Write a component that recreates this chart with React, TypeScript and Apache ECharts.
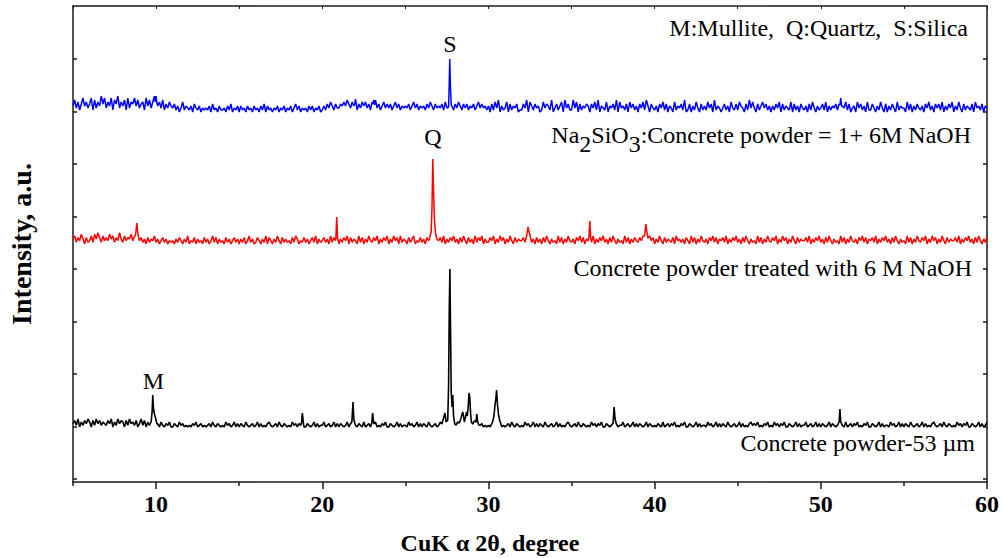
import React, { useEffect, useRef } from "react";
import * as echarts from "echarts";

// 2θ grid of the scans (degrees)
const X_START = 5;
const X_STEP = 0.1;

// Tick values
const xMajorTicks = [10, 20, 30, 40, 50, 60];
const xMinorTicks = [5, 15, 25, 35, 45, 55];
const xTopTicks = [5, 10, 15, 20, 25, 30, 35, 40, 45, 50, 55, 60];
const yTicks = [3, 55.5, 108, 160.5, 213, 265.5, 318, 370.5, 423];

// Background noise, one digit per 0.1° step (5° → 60°)
const blueNoise =
  "4736258463 5827364958 3648275936 4728365847 3562847369 7463725364 3524136243 2415324132 3241523142 2314251324 " +
  "1423142314 2314251423 1324132413 2413524132 3142413241 2425364253 3546475364 4253646352 6473524635 3524635243 " +
  "4352463524 3425364253 4352637242 5364253524 3524635342 4152637142 3615243512 2537164253 4126354271 3524617352 " +
  "2736152435 4153627143 2614352716 3425163524 1536274153 2415362514 3162435271 2514263152 4263517243 1352416325 " +
  "2643152736 3152463524 1425361524 3261524153 2415263142 3526142435 2514362513 4163524162 2531426315 1425316243 " +
  "3162514253 2415362415 3526142536 1426315243 25163425143";
const redNoise =
  "4625374152 3627485263 5374625384 2635473625 3524152436 2413524132 3142531426 1325142315 2413625142 3152413524 " +
  "1425136241 2531426153 1426315242 3152641325 2413526142 3524162534 1425361524 3162514263 2536142536 1426351624 " +
  "3152461325 2415362514 3526142536 2415263152 4162536142 2536142635 1426315243 3526472415 2415263142 3162514263 " +
  "2415362514 3526142536 2415263142 3162514253 2536142635 1426315243 2516342415 3162514263 2415362514 3526142536 " +
  "2415263142 3162514263 2536142635 1426315243 3526142536 2415263142 3162514263 2415362514 3526142536 2415263142 " +
  "3162514263 2536142635 1426315243 3526142536 24152631426";
const blackNoise =
  "3526142536 4152635243 2536142635 4152634251 3625142536 2314213241 1321423121 2132412312 1231421321 2142312413 " +
  "1321421231 2413121342 1231421321 2142313241 1321241312 2412312413 1321241321 2132141231 3241213241 1321241312 " +
  "2142312413 1321421231 2413121342 2314213241 1321423121 2132412312 1231421321 2142312413 1321421231 2413121342 " +
  "1231421321 2142313241 1321241312 2412312413 1321241321 2132141231 3241213241 1321241312 2142312413 1321421231 " +
  "2413121342 3241213241 2142313241 1321241312 2412312413 1321241321 2132141231 3241213241 1321241312 2142312413 " +
  "1321421231 2413121342 1231421321 2142313241 13212413124";

// Baseline level and noise step of each (offset) trace, in plot units
const blueBase = 368;
const blueStep = 2.0;
const redBase = 236.5;
const redStep = 1.6;
const blackBase = 53.5;
const blackStep = 1.6;

// Diffraction peaks [2θ, intensity]
const bluePeaks: number[][][] = [
  [[9.95, 380], [10.0, 386], [10.05, 379]],
  [[21.95, 378], [22.0, 383], [22.05, 377]],
  [[23.05, 378], [23.1, 382], [23.15, 377]],
  [[27.6, 375], [27.64, 398], [27.67, 423], [27.71, 396], [27.76, 377]],
  [[51.15, 377], [51.2, 384], [51.25, 376]],
];
const redPeaks: number[][][] = [
  [[8.75, 246], [8.8, 252], [8.84, 259], [8.9, 249], [8.95, 244]],
  [[20.82, 244], [20.87, 265], [20.92, 244]],
  [[26.45, 243], [26.55, 250], [26.6, 272], [26.65, 323], [26.7, 290], [26.75, 262], [26.82, 248], [26.9, 243]],
  [[32.3, 246], [32.38, 255], [32.45, 250], [32.52, 245]],
  [[36.05, 245], [36.1, 261], [36.15, 245]],
  [[39.4, 246], [39.47, 258], [39.55, 248], [39.6, 244]],
];
const blackPeaks: number[][][] = [
  [[9.7, 60], [9.76, 70], [9.8, 87], [9.84, 74], [9.9, 68], [9.97, 64], [10.05, 58]],
  [[18.75, 59], [18.8, 69], [18.87, 58]],
  [[21.78, 60], [21.85, 80], [21.9, 63], [21.97, 58]],
  [[22.98, 59], [23.03, 69], [23.1, 58]],
  [
    [27.2, 58], [27.3, 64], [27.38, 69], [27.45, 60], [27.55, 62], [27.6, 95], [27.64, 170], [27.68, 213],
    [27.72, 150], [27.76, 90], [27.81, 75], [27.85, 87], [27.9, 66], [27.97, 58], [28.05, 57], [28.15, 60],
    [28.25, 59], [28.35, 64], [28.45, 70], [28.5, 66], [28.55, 60], [28.62, 65], [28.68, 70], [28.73, 66],
    [28.78, 75], [28.83, 89], [28.88, 84], [28.92, 70], [28.97, 60], [29.05, 58], [29.15, 61], [29.25, 60],
    [29.3, 68], [29.35, 60], [29.42, 57],
  ],
  [[30.25, 60], [30.33, 66], [30.4, 78], [30.45, 84], [30.49, 92], [30.54, 78], [30.6, 68], [30.67, 62], [30.75, 58]],
  [[37.5, 59], [37.56, 75], [37.62, 63], [37.7, 58]],
  [[51.1, 60], [51.15, 73], [51.2, 60]],
];

function buildScan(noise: string, base: number, step: number, peaks: number[][][]) {
  const digits = noise.replace(/\s+/g, "");
  let pts: number[][] = [];
  for (let i = 0; i < digits.length; i++) {
    const x = Math.round((X_START + i * X_STEP) * 100) / 100;
    if (x > 60) break;
    pts.push([x, base + Number(digits[i]) * step]);
  }
  for (const pk of peaks) {
    const lo = pk[0][0];
    const hi = pk[pk.length - 1][0];
    pts = pts.filter((p) => p[0] < lo || p[0] > hi);
    pts.push(...pk);
  }
  pts.sort((a, b) => a[0] - b[0]);
  return pts;
}

const FONT = '"Liberation Serif", "Times New Roman", Times, serif';
const AXIS_COLOR = "#1a1a1a";

export default function App() {
  const ref = useRef<HTMLDivElement>(null);

  useEffect(() => {
    if (!ref.current) return;
    const chart = echarts.init(ref.current, null, { renderer: "svg" });

    const lineAxis = { show: true, onZero: false, lineStyle: { color: AXIS_COLOR, width: 1.5 } };
    const tickStyle = { color: AXIS_COLOR, width: 1.5 };

    const textEl = (text: string, x: number, y: number, align: string, opts: any = {}) => ({
      type: "text",
      x,
      y,
      rotation: opts.rotation || 0,
      silent: true,
      style: {
        text,
        fontFamily: FONT,
        fontSize: opts.fontSize || 24,
        fontWeight: opts.fontWeight || "normal",
        fill: "#000",
        align,
        textAlign: align,
        verticalAlign: "middle",
        textVerticalAlign: "middle",
      },
    });

    chart.setOption({
      animation: false,
      backgroundColor: "#ffffff",
      grid: { left: 73, right: 15, top: 6, bottom: 76, containLabel: false },
      xAxis: [
        {
          type: "value",
          min: 5,
          max: 60,
          position: "bottom",
          axisLine: lineAxis,
          axisTick: { show: true, inside: false, length: 7, customValues: xMajorTicks, lineStyle: tickStyle },
          axisLabel: {
            show: true,
            customValues: xMajorTicks,
            margin: 10,
            fontFamily: FONT,
            fontWeight: "bold",
            fontSize: 24,
            color: "#000",
          },
          splitLine: { show: false },
        },
        {
          type: "value",
          min: 5,
          max: 60,
          position: "bottom",
          axisLine: { show: false },
          axisTick: { show: true, inside: false, length: 4, customValues: xMinorTicks, lineStyle: tickStyle },
          axisLabel: { show: false },
          splitLine: { show: false },
        },
        {
          type: "value",
          min: 5,
          max: 60,
          position: "top",
          axisLine: lineAxis,
          axisTick: { show: true, inside: true, length: 3, customValues: xTopTicks, lineStyle: { color: AXIS_COLOR, width: 1 } },
          axisLabel: { show: false },
          splitLine: { show: false },
        },
      ],
      yAxis: [
        {
          type: "value",
          min: 0,
          max: 476,
          position: "left",
          axisLine: lineAxis,
          axisTick: { show: true, inside: true, length: 4, customValues: yTicks, lineStyle: tickStyle },
          axisLabel: { show: false },
          splitLine: { show: false },
        },
        {
          type: "value",
          min: 0,
          max: 476,
          position: "right",
          axisLine: lineAxis,
          axisTick: { show: true, inside: true, length: 4, customValues: yTicks, lineStyle: tickStyle },
          axisLabel: { show: false },
          splitLine: { show: false },
        },
      ],
      series: [
        {
          name: "Na2SiO3:Concrete powder = 1+ 6M NaOH (top)",
          type: "line",
          data: buildScan(blueNoise, blueBase, blueStep, bluePeaks),
          showSymbol: false,
          symbol: "none",
          silent: true,
          lineStyle: { color: "#0000ff", width: 1.5 },
        },
        {
          name: "Concrete powder treated with 6 M NaOH",
          type: "line",
          data: buildScan(redNoise, redBase, redStep, redPeaks),
          showSymbol: false,
          symbol: "none",
          silent: true,
          lineStyle: { color: "#ff0000", width: 1.5 },
        },
        {
          name: "Concrete powder-53 µm",
          type: "line",
          data: buildScan(blackNoise, blackBase, blackStep, blackPeaks),
          showSymbol: false,
          symbol: "none",
          silent: true,
          lineStyle: { color: "#000000", width: 1.6 },
        },
      ],
      graphic: [
        textEl("M:Mullite,  Q:Quartz,  S:Silica", 968, 28, "right"),
        {
          type: "text",
          x: 971,
          y: 123,
          silent: true,
          style: {
            text: "{n|Na}{s|2}{n|SiO}{s|3}{n|:Concrete powder = 1+ 6M NaOH}",
            align: "right",
            textAlign: "right",
            verticalAlign: "top",
            textVerticalAlign: "top",
            fill: "#000",
            rich: {
              n: { fontFamily: FONT, fontSize: 24, lineHeight: 24, verticalAlign: "top", fill: "#000" },
              s: { fontFamily: FONT, fontSize: 24, lineHeight: 24, padding: [9, 0, 0, 0], verticalAlign: "top", fill: "#000" },
            },
          },
        },
        textEl("Concrete powder treated with 6 M NaOH", 972, 268, "right"),
        textEl("Concrete powder-53 µm", 975, 443, "right"),
        textEl("S", 450, 43.5, "center"),
        textEl("Q", 433, 137, "center"),
        textEl("M", 153.5, 381, "center"),
        textEl("CuK α 2θ, degree", 490, 542.5, "center", { fontWeight: "bold" }),
        textEl("Intensity, a.u.", 21, 244, "center", { fontWeight: "bold", fontSize: 28, rotation: Math.PI / 2 }),
      ],
    });

    return () => chart.dispose();
  }, []);

  return (
    <div
      ref={ref}
      style={{ position: "fixed", left: 0, top: 0, width: 1002, height: 558, background: "#fff" }}
    />
  );
}
